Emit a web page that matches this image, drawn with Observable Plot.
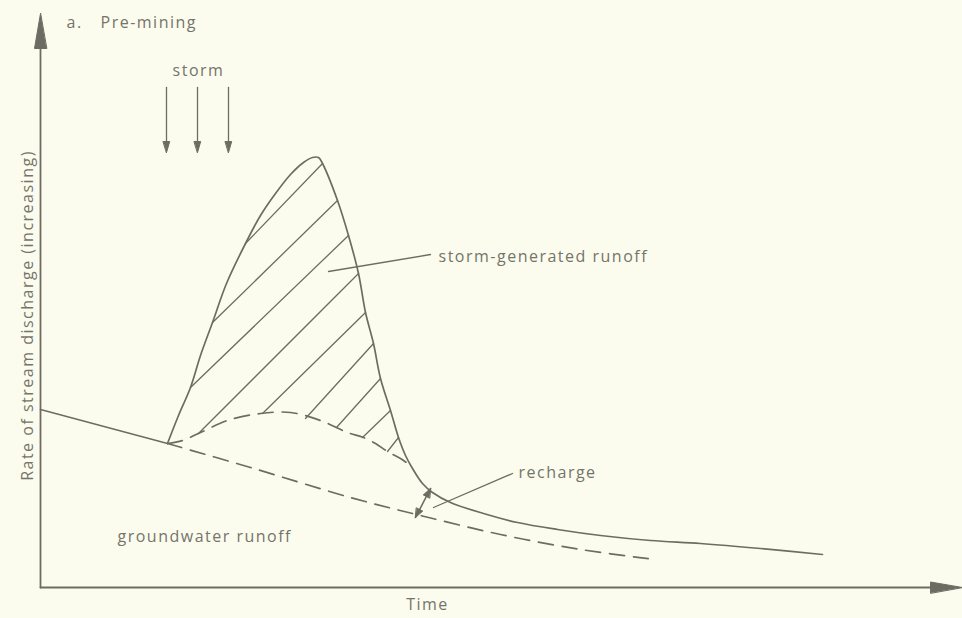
<!DOCTYPE html>
<html>
<head>
<meta charset="utf-8">
<script src="https://cdn.jsdelivr.net/npm/d3@7"></script>
<script src="https://cdn.jsdelivr.net/npm/@observablehq/plot@0.6"></script>
<style>
  html, body { margin: 0; padding: 0; background: #fcfcee; }
  #chart svg { display: block; }
</style>
</head>
<body>
<div id="chart"></div>
<script>
// ---- data (time units, discharge units; origin at axis corner) ----
const preStormBaseflow = [[0, 178], [127, 144]];
const hydrograph = [
  [127,144],[138,172],[150,200],[160,232],[172,265],[186,304],[205,344],[220,372],
  [235,394],[250,413],[263,425],[272,430],[278,430],[282,424],[297,387],[308,352],
  [318,314],[325,275],[333,244],[340,209],[350,177],[358,150],[365,132],[372,119],
  [382,104],[392,95],[410,85],[443,74],[477,65],[517,58],[560,52],[610,47],
  [660,44],[720,39],[782,33]
];
const stormSeparation = [
  [127,144],[142,147],[160,155],[187,167],[220,174],[250,175],[280,167],[307,155],
  [323,150],[335,144],[347,136],[360,129],[370,122]
];
const groundwaterDashed = [
  [127,144],[210,120],[310,90],[380,72],[460,53],[540,38],[615,28]
];
const hatches = [
  [[205,344],[282,424]],
  [[172,265],[297,387]],
  [[150,200],[308,352]],
  [[158,154],[318,314]],
  [[222,174],[325,275]],
  [[265,169],[333,244]],
  [[296,160],[340,209]],
  [[322,150],[350,177]],
  [[347,136],[358,150]]
];
const stormTimes = [126, 157, 188];
const stormTop = 500, stormTip = 435;
const leaders = [
  [[288,316],[390,333]],
  [[393,80],[472,114]]
];
const rechargeArrow = [[390,99],[375,70]];
const xAxisEnd = 922, yAxisEnd = 574;
const startLabels = [
  {t: 26, q: 560, text: "a."},
  {t: 60, q: 560, text: "Pre-mining"},
  {t: 398, q: 326, text: "storm-generated runoff"},
  {t: 478, q: 110, text: "recharge"},
  {t: 77, q: 46, text: "groundwater runoff"}
];
const middleLabels = [
  {t: 158, q: 512, text: "storm"},
  {t: 387, q: -22, text: "Time"}
];
const yLabel = {t: -8, q: 272, text: "Rate of stream discharge (increasing)"};

// ---- helpers ----
const ink = "#6c6c62";
const textInk = "#74746b";
const toPts = (arr, id) => arr.map(([t, q]) => ({t, q, id}));
const segs = (list, prefix) => list.flatMap((s, i) => toPts(s, prefix + i));
function head(tip, from, len, half, id) {
  const dx = tip[0] - from[0], dy = tip[1] - from[1];
  const L = Math.hypot(dx, dy), ux = dx / L, uy = dy / L;
  const bx = tip[0] - ux * len, by = tip[1] - uy * len;
  return [
    {t: tip[0], q: tip[1], id},
    {t: bx - uy * half, q: by + ux * half, id},
    {t: bx + uy * half, q: by - ux * half, id}
  ];
}

const axisLines = [
  ...toPts([[0, 0], [0, yAxisEnd - 35]], "ya"),
  ...toPts([[0, 0], [xAxisEnd - 32, 0]], "xa")
];
const heads = [
  ...head([0, yAxisEnd], [0, 0], 35, 6, "hy"),
  ...head([xAxisEnd, 0], [0, 0], 32, 5.5, "hx"),
  ...stormTimes.flatMap((t, i) => head([t, stormTip], [t, stormTop], 11, 3.2, "hs" + i)),
  ...head(rechargeArrow[0], rechargeArrow[1], 9, 3.5, "hr0"),
  ...head(rechargeArrow[1], rechargeArrow[0], 9, 3.5, "hr1")
];
const stormShafts = stormTimes.flatMap((t, i) => toPts([[t, stormTop], [t, stormTip + 6]], "s" + i));

const textStyle = {fill: textInk, fontSize: 16, lineAnchor: "bottom"};
const chart = Plot.plot({
  width: 962,
  height: 618,
  margin: 0,
  style: {background: "#fcfcee", fontFamily: "'Open Sans', 'DejaVu Sans', sans-serif"},
  x: {domain: [0, 922], range: [40, 962], axis: null},
  y: {domain: [0, 587], range: [587, 0], axis: null},
  marks: [
    Plot.line(axisLines, {x: "t", y: "q", z: "id", stroke: ink, strokeWidth: 1.8}),
    Plot.line(toPts(preStormBaseflow, "b"), {x: "t", y: "q", stroke: ink, strokeWidth: 1.6}),
    Plot.line(toPts(groundwaterDashed, "g"), {x: "t", y: "q", stroke: ink, strokeWidth: 1.7, strokeDasharray: "15,9", curve: "catmull-rom"}),
    Plot.line(toPts(stormSeparation, "u"), {x: "t", y: "q", stroke: ink, strokeWidth: 1.7, strokeDasharray: "15,9", curve: "catmull-rom"}),
    Plot.line(segs(hatches, "h"), {x: "t", y: "q", z: "id", stroke: ink, strokeWidth: 1.3}),
    Plot.line(toPts(hydrograph, "hg"), {x: "t", y: "q", stroke: ink, strokeWidth: 1.7, curve: "catmull-rom"}),
    Plot.line(stormShafts, {x: "t", y: "q", z: "id", stroke: ink, strokeWidth: 1.3}),
    Plot.line(segs(leaders, "l"), {x: "t", y: "q", z: "id", stroke: ink, strokeWidth: 1.3}),
    Plot.line(toPts(rechargeArrow, "ra"), {x: "t", y: "q", stroke: ink, strokeWidth: 1.6}),
    Plot.line(heads, {x: "t", y: "q", z: "id", fill: ink, stroke: ink, strokeWidth: 1, curve: "linear-closed"}),
    Plot.text(startLabels, {x: "t", y: "q", text: "text", textAnchor: "start", ...textStyle}),
    Plot.text(middleLabels, {x: "t", y: "q", text: "text", textAnchor: "middle", ...textStyle}),
    Plot.text([yLabel], {x: "t", y: "q", text: "text", rotate: -90, textAnchor: "middle", ...textStyle})
  ]
});
chart.querySelectorAll("text").forEach(t => t.style.letterSpacing = "1.5px");
document.getElementById("chart").append(chart);
</script>
</body>
</html>
